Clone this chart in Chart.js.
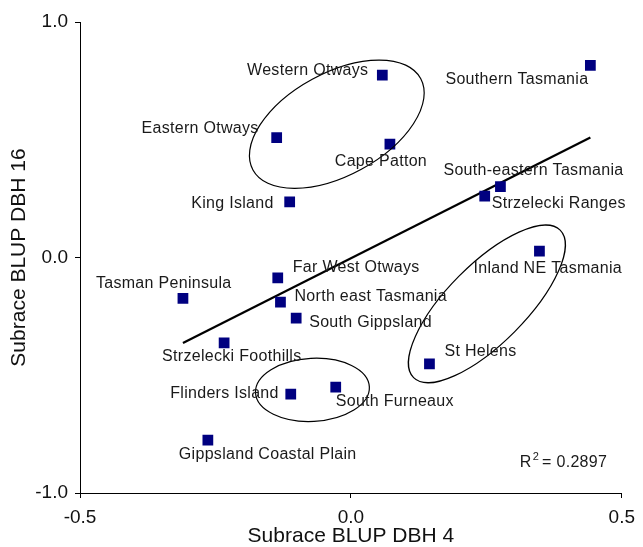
<!DOCTYPE html>
<html>
<head>
<meta charset="utf-8">
<script src="https://cdn.jsdelivr.net/npm/chart.js@4/dist/chart.umd.min.js"></script>
<style>
    html, body { margin: 0; padding: 0; background: #fff; }
    #wrap { width: 643px; height: 547px; position: relative; }
</style>
</head>
<body>
<div id="wrap"><canvas id="chartBlup"></canvas></div>
<script>
// subrace BLUPs for DBH at age 4 (x) and age 16 (y)
var regions = [
    'Western Otways', 'Eastern Otways', 'Cape Patton', 'King Island',
    'Southern Tasmania', 'South-eastern Tasmania', 'Strzelecki Ranges', 'Inland NE Tasmania',
    'Tasman Peninsula', 'Far West Otways', 'North east Tasmania', 'South Gippsland',
    'Strzelecki Foothills', 'St Helens', 'Flinders Island', 'South Furneaux',
    'Gippsland Coastal Plain'
];
var dbh4 = [
    0.058, -0.137, 0.072, -0.113,
    0.442, 0.276, 0.247, 0.348,
    -0.310, -0.135, -0.130, -0.101,
    -0.234, 0.145, -0.111, -0.028,
    -0.264
];
var dbh16 = [
    0.774, 0.509, 0.481, 0.236,
    0.816, 0.301, 0.261, 0.027,
    -0.174, -0.087, -0.189, -0.257,
    -0.363, -0.452, -0.580, -0.550,
    -0.775
];
var xTickValues = [-0.5, 0.0, 0.5];
var yTickValues = [-1.0, 0.0, 1.0];
var r2Text = '0.2897';

var FONT = '"Liberation Sans", Arial, Helvetica, sans-serif';

// least squares fit, drawn across the range of x
function linearFit(xs, ys) {
    var n = xs.length, sx = 0, sy = 0, sxx = 0, sxy = 0;
    for (var i = 0; i < n; i++) {
        sx += xs[i]; sy += ys[i];
        sxx += xs[i] * xs[i]; sxy += xs[i] * ys[i];
    }
    var slope = (n * sxy - sx * sy) / (n * sxx - sx * sx);
    var icpt = (sy - slope * sx) / n;
    var x0 = Math.min.apply(null, xs), x1 = Math.max.apply(null, xs);
    return [{ x: x0, y: icpt + slope * x0 }, { x: x1, y: icpt + slope * x1 }];
}

var points = regions.map(function (r, i) { return { x: dbh4[i], y: dbh16[i] }; });

// label placement per point: [dx, dy, align]
var labelPos = [
    [-14, -6, 'right'], [-18, -10, 'right'], [-9, 16, 'center'], [-16, 1, 'right'],
    [-2, 13, 'right'], [-57, -17, 'left'], [7, 7, 'left'], [-66, 16, 'left'],
    [-87, -16, 'left'], [15, -11, 'left'], [14, -6, 'left'], [13, 4, 'left'],
    [-62, 13, 'left'], [15, -13, 'left'], [-12, -1, 'right'], [0, 14, 'left'],
    [-29, 14, 'left']
];

// groupings drawn as rotated ellipses (centre in data units, radii in px, angle in degrees)
var groupRings = [
    { x: -0.026, y: 0.566, a: 95.5, b: 51.3, rot: -28.6 },
    { x: 0.251, y: -0.197, a: 104, b: 39.3, rot: -45.2 },
    { x: -0.071, y: -0.562, a: 57, b: 31.6, rot: -3 }
];

var annotate = {
    id: 'annotate',
    afterDatasetsDraw: function (chart) {
        var ctx = chart.ctx;
        var xs = chart.scales.x, ys = chart.scales.y;
        ctx.save();

        ctx.strokeStyle = '#000';
        ctx.lineWidth = 1.2;
        groupRings.forEach(function (g) {
            ctx.beginPath();
            ctx.ellipse(xs.getPixelForValue(g.x), ys.getPixelForValue(g.y), g.a, g.b, g.rot * Math.PI / 180, 0, Math.PI * 2);
            ctx.stroke();
        });

        ctx.fillStyle = '#1a1a1a';
        ctx.font = '16px ' + FONT;
        ctx.letterSpacing = '0.3px';
        ctx.textBaseline = 'middle';
        regions.forEach(function (name, i) {
            var p = labelPos[i];
            ctx.textAlign = p[2];
            ctx.fillText(name, xs.getPixelForValue(dbh4[i]) + p[0], ys.getPixelForValue(dbh16[i]) + p[1] + 1);
        });

        // R squared note
        var a = chart.chartArea;
        var tx = a.right - 102, ty = a.bottom - 26;
        ctx.textAlign = 'left';
        ctx.textBaseline = 'alphabetic';
        ctx.fillText('R', tx, ty);
        tx += ctx.measureText('R').width + 1;
        ctx.font = '11px ' + FONT;
        ctx.fillText('2', tx, ty - 7);
        tx += ctx.measureText('2').width + 3;
        ctx.font = '16px ' + FONT;
        ctx.fillText('= ' + r2Text, tx, ty);
        ctx.restore();
    }
};

var canvas = document.getElementById('chartBlup');
new Chart(canvas.getContext('2d'), {
    type: 'scatter',
    data: {
        datasets: [
            {
                label: 'Subraces',
                data: points,
                pointStyle: 'rect',
                pointRadius: 7.6,
                pointHoverRadius: 7.6,
                pointBorderWidth: 0,
                backgroundColor: '#000080',
                borderColor: '#000080',
            },
            {
                label: 'Linear fit',
                data: linearFit(dbh4, dbh16),
                showLine: true,
                pointRadius: 0,
                borderColor: '#000',
                borderWidth: 2.2,
                fill: false,
            },
        ],
    },
    options: {
        responsive: true,
        maintainAspectRatio: false,
        animation: false,
        layout: { padding: { left: 0, right: 20, top: 22, bottom: 0 } },
        plugins: {
            legend: { display: false },
            tooltip: { enabled: false },
        },
        scales: {
            x: {
                type: 'linear',
                min: -0.5,
                max: 0.5,
                afterBuildTicks: function (s) { s.ticks = xTickValues.map(function (v) { return { value: v }; }); },
                afterFit: function (s) { s.height = 54; },
                ticks: {
                    color: '#111',
                    padding: 8,
                    font: { size: 19, family: FONT },
                    callback: function (v) { return v.toFixed(1); },
                },
                grid: { drawOnChartArea: false, drawTicks: true, tickLength: 5, color: '#000' },
                border: { display: true, color: '#000', width: 1 },
                title: {
                    display: true,
                    text: 'Subrace BLUP DBH 4',
                    color: '#111',
                    font: { size: 21, family: FONT, lineHeight: 1 },
                    padding: { top: 0, bottom: 0 },
                },
            },
            y: {
                type: 'linear',
                min: -1,
                max: 1,
                afterBuildTicks: function (s) { s.ticks = yTickValues.map(function (v) { return { value: v }; }); },
                afterFit: function (s) { s.width = 80; },
                ticks: {
                    color: '#111',
                    padding: 7,
                    font: { size: 19, family: FONT },
                    callback: function (v) { return v.toFixed(1); },
                },
                grid: { drawOnChartArea: false, drawTicks: true, tickLength: 5, color: '#000' },
                border: { display: true, color: '#000', width: 1 },
                title: {
                    display: true,
                    text: 'Subrace BLUP DBH 16',
                    color: '#111',
                    font: { size: 21, family: FONT },
                    padding: { top: 7, bottom: 0 },
                },
            },
        },
    },
    plugins: [annotate],
});
</script>
</body>
</html>
